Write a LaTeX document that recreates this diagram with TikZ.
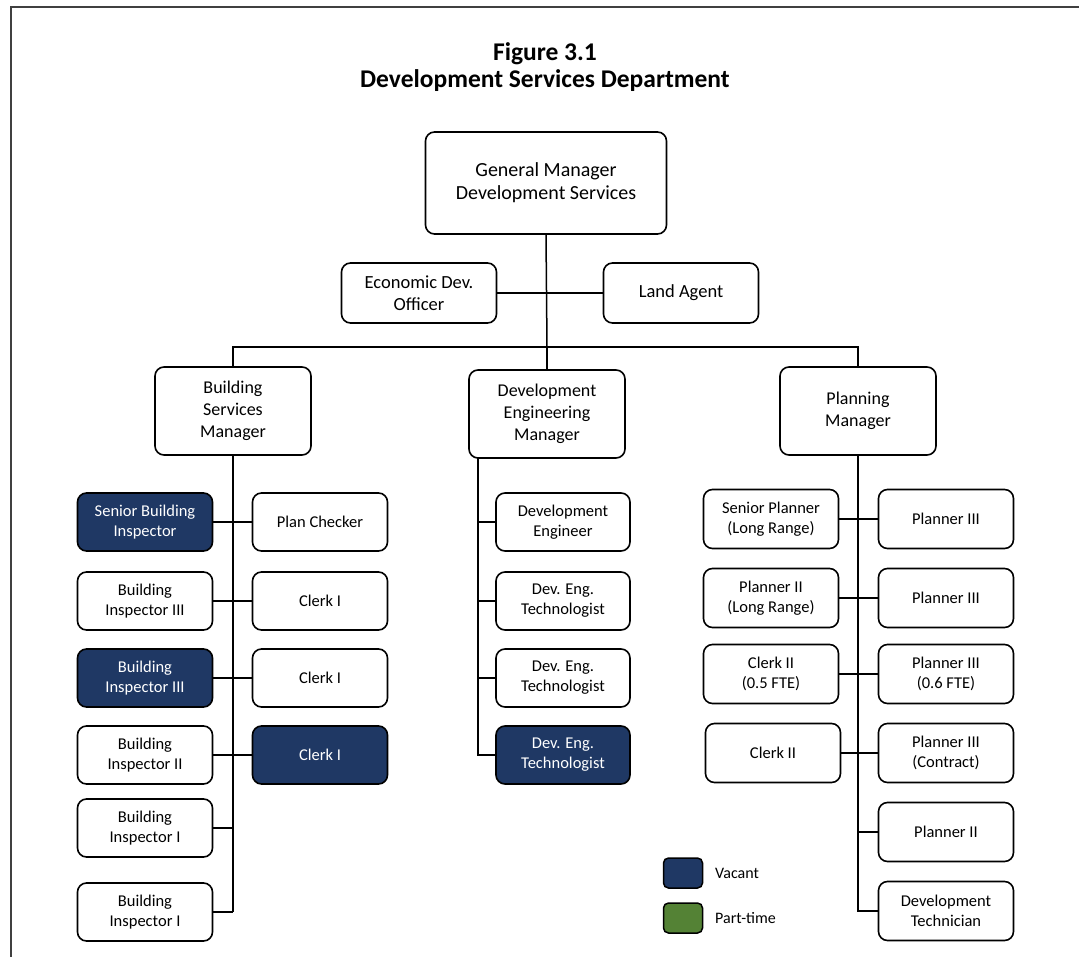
\documentclass[tikz,border=0pt]{standalone}
\usepackage{fontspec}
\setmainfont{Carlito}
\definecolor{vacant}{RGB}{31,56,100}
\definecolor{parttime}{RGB}{84,130,53}
\definecolor{framecol}{RGB}{64,64,64}
\tikzset{
  box/.style={draw=black, line width=1.6pt, rounded corners=9pt, align=center, inner sep=0pt, fill=white},
  smallbox/.style={box, minimum width=135pt, minimum height=58pt, font=\fontsize{16.5}{20}\selectfont},
  mgrbox/.style={box, minimum width=156pt, minimum height=88pt, font=\fontsize{18}{22}\selectfont},
  vac/.style={fill=vacant, text=white},
  conn/.style={draw=black, line width=1.5pt},
  legbox/.style={draw=black, line width=1.5pt, rounded corners=5pt, minimum width=39pt, minimum height=30pt, inner sep=0pt},
  legtext/.style={anchor=west, font=\fontsize{16}{18}\selectfont, inner sep=0pt}
}
\begin{document}
\begin{tikzpicture}[x=1pt,y=-1pt]
\useasboundingbox (0,0) rectangle (1079,957);
\draw[framecol, line width=2pt] (11,957) -- (11,7) -- (1079,7);
% title
\node[font=\bfseries\fontsize{25.5}{26.5}\selectfont, align=center] (title) at (545,67) {Figure 3.1\\Development Services Department};
% top
\node[box, minimum width=241pt, minimum height=102pt, font=\fontsize{20}{23}\selectfont] (gm) at (546,183) {General Manager\\Development Services};
\node[box, minimum width=155pt, minimum height=60pt, font=\fontsize{18.5}{22}\selectfont] (edo) at (419,293) {Economic Dev.\\Officer};
\node[box, minimum width=155pt, minimum height=60pt, font=\fontsize{18.5}{22}\selectfont] (la) at (681,293) {Land Agent};
% managers
\node[mgrbox] (bsm) at (233,411) {Building\\Services\\Manager};
\node[mgrbox] (dem) at (547,414) {Development\\Engineering\\Manager};
\node[mgrbox] (pm) at (858,411) {Planning\\Manager};
\coordinate (bus) at (547,347);
% connectors top
\draw[conn] (gm.south) -- (bus);
\draw[conn] (edo.east) -- (la.west);
\draw[conn] (bsm.north) |- (bus) -| (pm.north);
\draw[conn] (dem.north) -- (bus);
% building column
\node[smallbox, vac] (sbi) at (145,522) {Senior Building\\Inspector};
\node[smallbox] (pc) at (320,522) {Plan Checker};
\node[smallbox] (bi3a) at (145,601) {Building\\Inspector III};
\node[smallbox] (c1a) at (320,601) {Clerk I};
\node[smallbox, vac] (bi3b) at (145,678) {Building\\Inspector III};
\node[smallbox] (c1b) at (320,678) {Clerk I};
\node[smallbox] (bi2) at (145,755) {Building\\Inspector II};
\node[smallbox, vac] (c1c) at (320,755) {Clerk I};
\node[smallbox] (bi1a) at (145,828) {Building\\Inspector I};
\node[smallbox] (bi1b) at (145,912) {Building\\Inspector I};
\coordinate (bbot) at (234,912);
\draw[conn] (bsm.south) -- (bsm.south |- bbot);
\draw[conn] (sbi.east) -- (pc.west);
\draw[conn] (bi3a.east) -- (c1a.west);
\draw[conn] (bi3b.east) -- (c1b.west);
\draw[conn] (bi2.east) -- (c1c.west);
\draw[conn] (bi1a.east) -- (bi1a.east -| bsm.south);
\draw[conn] (bi1b.east) -- (bi1b.east -| bsm.south);
% development engineering column
\node[smallbox, minimum width=134pt] (de) at (563,522) {Development\\Engineer};
\node[smallbox, minimum width=134pt] (det1) at (563,601) {Dev. Eng.\\Technologist};
\node[smallbox, minimum width=134pt] (det2) at (563,678) {Dev. Eng.\\Technologist};
\node[smallbox, minimum width=134pt, vac] (det3) at (563,755) {Dev. Eng.\\Technologist};
\coordinate (dtop) at (478,457);
\coordinate (dbot) at (478,756);
\draw[conn] (dtop) -- (dbot);
\draw[conn] (de.west) -- (de.west -| dtop);
\draw[conn] (det1.west) -- (det1.west -| dtop);
\draw[conn] (det2.west) -- (det2.west -| dtop);
\draw[conn] (det3.west) -- (det3.west -| dtop);
% planning column
\node[smallbox, minimum height=59pt] (sp) at (771,519) {Senior Planner\\(Long Range)};
\node[smallbox, minimum height=59pt] (p3a) at (946,519) {Planner III};
\node[smallbox, minimum height=59pt] (p2lr) at (771,598) {Planner II\\(Long Range)};
\node[smallbox, minimum height=59pt] (p3b) at (946,598) {Planner III};
\node[smallbox, minimum height=59pt] (c2a) at (771,674) {Clerk II\\(0.5 FTE)};
\node[smallbox, minimum height=59pt] (p3c) at (946,674) {Planner III\\(0.6 FTE)};
\node[smallbox, minimum height=59pt] (c2b) at (773,753) {Clerk II};
\node[smallbox, minimum height=59pt] (p3d) at (946,753) {Planner III\\(Contract)};
\node[smallbox, minimum height=59pt] (p2) at (946,832) {Planner II};
\node[smallbox, minimum height=59pt] (dt) at (946,911) {Development\\Technician};
\coordinate (pbot) at (858,912);
\draw[conn] (pm.south) -- (pm.south |- pbot);
\draw[conn] (sp.east) -- (p3a.west);
\draw[conn] (p2lr.east) -- (p3b.west);
\draw[conn] (c2a.east) -- (p3c.west);
\draw[conn] (c2b.east) -- (p3d.west);
\draw[conn] (p2.west) -- (p2.west -| pm.south);
\draw[conn] (dt.west) -- (dt.west -| pm.south);
% legend
\node[legbox, fill=vacant] (lv) at (683,873) {};
\node[legtext] (lvt) at (715,873) {Vacant};
\node[legbox, fill=parttime] (lp) at (683,918) {};
\node[legtext] (lpt) at (715,918) {Part-time};
\end{tikzpicture}
\end{document}
